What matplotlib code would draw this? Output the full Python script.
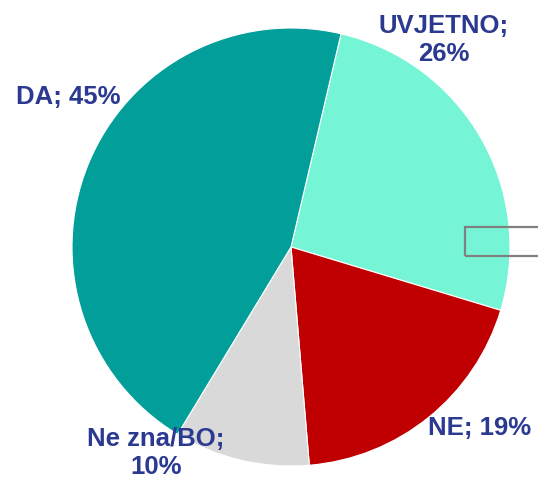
import matplotlib.pyplot as plt
from matplotlib.patches import Rectangle

# answers and shares (%), clockwise from the top
categories = ["UVJETNO", "NE", "Ne zna/BO", "DA"]
shares = [26, 19, 10, 45]
colors = ["#76F5D6", "#C00000", "#D9D9D9", "#029E9A"]

W, H = 538, 481
TEXT_COLOR = "#2B3990"

plt.rcParams["font.family"] = ["Liberation Sans", "DejaVu Sans"]

fig = plt.figure(figsize=(W / 100, H / 100), dpi=100)
ax = fig.add_axes([0, 0, 1, 1])

# pie in pixel-like coordinates (y measured from bottom)
cx, cy, r = 291, H - 248, 219
ax.pie(shares, colors=colors, startangle=76.8, counterclock=False,
       center=(cx, cy), radius=r, frame=True,
       wedgeprops=dict(edgecolor="white", linewidth=0.8))
ax.set_xlim(0, W)
ax.set_ylim(0, H)
ax.axis("off")

# data labels, placed like the original
label_pos = {
    "UVJETNO": (444, H - 40, "{};\n{}%"),
    "NE": (480, H - 428, "{}; {}%"),
    "Ne zna/BO": (156, H - 453, "{};\n{}%"),
    "DA": (68, H - 97, "{}; {}%"),
}
for cat, val in zip(categories, shares):
    x, y, fmt = label_pos[cat]
    ax.text(x, y, fmt.format(cat, val), ha="center", va="center",
            fontsize=18.5, fontweight="bold", color=TEXT_COLOR,
            linespacing=1.2)

# leftover callout box, cut by the right edge
ax.add_patch(Rectangle((465, H - 257), 90, 29, fill=False,
                       edgecolor="#808080", linewidth=1.6))

fig.savefig("out.png", dpi=100)
